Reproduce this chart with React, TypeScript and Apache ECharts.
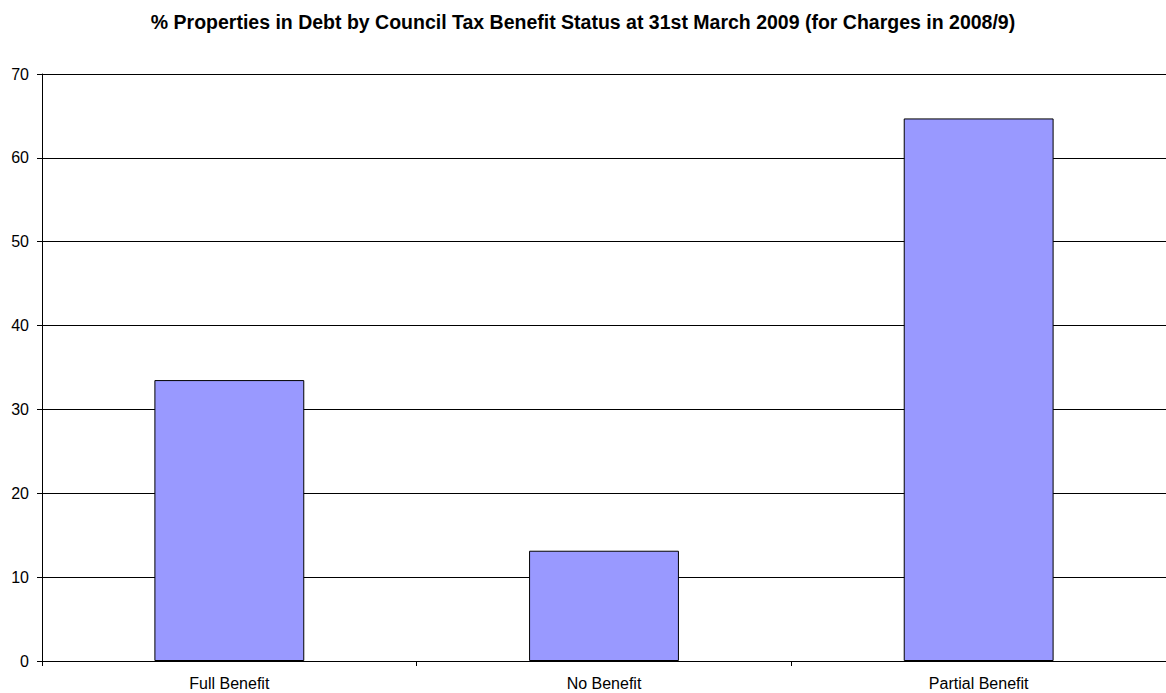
import React, { useEffect, useRef } from "react";
import * as echarts from "echarts";

const categories = ["Full Benefit", "No Benefit", "Partial Benefit"];
const values = [33.5, 13.15, 64.7];
const titleText = "% Properties in Debt by Council Tax Benefit Status at 31st March 2009 (for Charges in 2008/9)";

export default function App() {
  const ref = useRef<HTMLDivElement>(null);
  useEffect(() => {
    const chart = echarts.init(ref.current!, null, { renderer: "svg" });
    chart.setOption({
      animation: false,
      backgroundColor: "#ffffff",
      title: {
        text: titleText,
        left: "center",
        top: 7,
        textStyle: { fontFamily: "Liberation Sans, Arial, sans-serif", fontSize: 19.5, fontWeight: "bold", color: "#000" },
      },
      grid: { left: 42, right: 0, top: 74, bottom: 32, containLabel: false },
      xAxis: {
        type: "category",
        data: categories,
        axisLine: { lineStyle: { color: "#000", width: 1 } },
        axisTick: { show: true, alignWithLabel: false, length: 5, lineStyle: { color: "#000" } },
        axisLabel: { fontFamily: "Liberation Sans, Arial, sans-serif", fontSize: 16, color: "#000", margin: 14 },
      },
      yAxis: {
        type: "value",
        min: 0,
        max: 70,
        interval: 10,
        axisLine: { show: true, lineStyle: { color: "#000", width: 1 } },
        axisTick: { show: true, length: 5, lineStyle: { color: "#000" } },
        axisLabel: { fontFamily: "Liberation Sans, Arial, sans-serif", fontSize: 16, color: "#000", margin: 13 },
        splitLine: { show: true, lineStyle: { color: "#000", width: 1 } },
      },
      series: [
        {
          type: "bar",
          data: values,
          barCategoryGap: "60%",
          itemStyle: { color: "#9999FF", borderColor: "#000", borderWidth: 1 },
        },
      ],
    });
    return () => chart.dispose();
  }, []);
  return <div ref={ref} style={{ position: "fixed", left: 0, top: 0, width: 1166, height: 693 }} />;
}
